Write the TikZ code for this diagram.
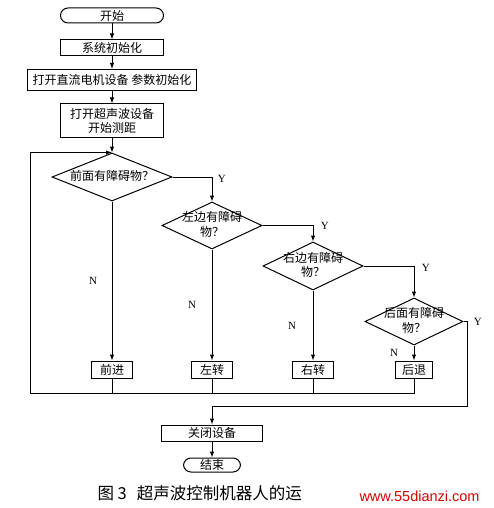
\documentclass[tikz,border=0pt]{standalone}
\usepackage{fontspec}
\setmainfont{Liberation Serif}
\newfontfamily\cjk{Noto Sans CJK SC}
\newfontfamily\marksans{Liberation Sans}
\usetikzlibrary{arrows.meta,positioning,shapes.geometric}
\newcommand{\dtext}[1]{\makebox[0pt]{\smash{\raisebox{-0.3em}{\begin{tabular}{@{}c@{}}#1\end{tabular}}}}}

\begin{document}
\begin{tikzpicture}[
  x=1pt, y=-1pt,
  font=\cjk\fontsize{12}{14}\selectfont,
  line width=1pt,
  proc/.style={draw, minimum height=16pt, inner xsep=2pt, inner ysep=1pt},
  term/.style={draw, rounded corners=7.5pt, minimum height=15pt, inner xsep=2pt, inner ysep=0.5pt},
  decision/.style={draw, diamond, inner sep=0pt},
  yn/.style={font=\rmfamily\fontsize{11}{12}\selectfont},
  arr/.style={-{Latex[length=6pt,width=4.5pt]}}
]
\useasboundingbox (0,0) rectangle (494,508);
% main column
\node[term, minimum width=103pt] (start) at (112,15.5) {开始};
\node[proc, minimum width=103pt] (init) at (112,48) {系统初始化};
\node[proc, minimum width=169pt, minimum height=21pt] (motor) at (112,80) {打开直流电机设备 参数初始化};
\node[proc, minimum width=103pt, minimum height=33pt, align=center] (sonar) at (112,120.5) {打开超声波设备\\开始测距};
% decisions
\node[decision, minimum width=120pt, minimum height=48pt] (front) at (112,177) {\dtext{前面有障碍物？}};
\node[decision, minimum width=100pt, minimum height=47pt] (left) at (212,225.5) {\dtext{左边有障碍\\物？}};
\node[decision, minimum width=100pt, minimum height=48pt] (right) at (313,266) {\dtext{右边有障碍\\物？}};
\node[decision, minimum width=98pt, minimum height=47pt] (back) at (414,321.5) {\dtext{后面有障碍\\物？}};
% actions
\node[proc, minimum width=41pt, minimum height=17pt] (fwd) at (112,369.5) {前进};
\node[proc, minimum width=41pt, minimum height=17pt] (turnl) at (212,369.5) {左转};
\node[proc, minimum width=41pt, minimum height=17pt] (turnr) at (313,369.5) {右转};
\node[proc, minimum width=37pt, minimum height=17pt] (rev) at (414,369.5) {后退};
\node[proc, minimum width=101pt] (stop) at (212,433) {关闭设备};
\node[term, minimum width=57pt, minimum height=14pt] (end) at (212,465) {结束};
\coordinate (loop) at (30,393);
\coordinate (exit) at (467,406);

\draw[arr] (start) -- (init);
\draw[arr] (init) -- (motor);
\draw[arr] (motor) -- (sonar);
\draw[arr] (sonar) -- (front);
\draw[arr] (front.east) -| node[pos=0.5, yn, right=2pt, yshift=-2pt] {Y} (left.north);
\draw[arr] (left.east) -| node[pos=0.5, yn, right=4pt] {Y} (right.north);
\draw[arr] (right.east) -| node[pos=0.5, yn, right=4pt, yshift=-2pt] {Y} (back.north);
\draw[arr] (front) -- node[yn, left=11pt] {N} (fwd);
\draw[arr] (left) -- node[yn, left=12pt] {N} (turnl);
\draw[arr] (right) -- node[yn, left=13pt] {N} (turnr);
\draw[arr] (back) -- node[yn, left=12pt] {N} (rev);
% back to the first test
\draw[arr] (rev.south) |- (loop) |- (front.north);
\draw (fwd.south) -- (fwd.south |- loop);
\draw (turnl.south) -- (turnl.south |- loop);
\draw (turnr.south) -- (turnr.south |- loop);
% all clear: shut down
\draw[arr] (back.east) -| node[pos=0.5, yn, right=3pt] {Y} (exit) -| (stop.north);
\draw[arr] (stop) -- (end);

\node[font=\cjk\fontsize{16.5}{18}\selectfont, anchor=west, inner sep=0pt] (caption) at (97,493) {图 3\hspace{0.6em}超声波控制机器人的运};
\node[font=\marksans\fontsize{14.5}{16}\selectfont, text=red!85!black, anchor=west, inner sep=0pt] (mark) at (359,496) {www.55dianzi.com};
\end{tikzpicture}
\end{document}
